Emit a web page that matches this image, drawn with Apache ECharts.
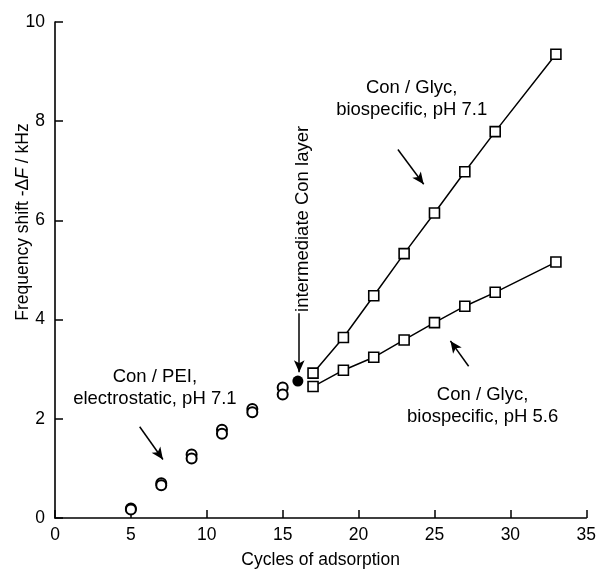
<!DOCTYPE html>
<html>
<head>
<meta charset="utf-8">
<style>
  html, body { margin: 0; padding: 0; background: #fff; }
  #chart { width: 599px; height: 574px; }
</style>
<script src="https://cdn.jsdelivr.net/npm/echarts@6/dist/echarts.min.js"></script>
</head>
<body>
<div id="chart"></div>
<script>
  // Con / PEI, electrostatic, two runs (open circles)
  var peiCycles = [5, 7, 9, 11, 13, 15];
  var peiRunA = [0.19, 0.70, 1.28, 1.78, 2.20, 2.63];
  var peiRunB = [0.17, 0.66, 1.20, 1.70, 2.13, 2.49];
  // intermediate Con layer (filled circle)
  var conCycle = [16];
  var conValue = [2.76];
  // Con / Glyc, biospecific (squares)
  var glycCycles = [17, 19, 21, 23, 25, 27, 29, 33];
  var glycPh71 = [2.92, 3.64, 4.48, 5.33, 6.15, 6.98, 7.79, 9.35];
  var glycPh56 = [2.65, 2.98, 3.24, 3.59, 3.94, 4.27, 4.55, 5.16];

  var font = '"Liberation Sans", Arial, Helvetica, sans-serif';

  function pairs (xs, ys) {
    return xs.map(function (x, i) { return [x, ys[i]]; });
  }

  // annotation arrows in data coords: [from, to]
  var arrows = [
    [[5.58, 1.84], [7.11, 1.18]],
    [[22.59, 7.43], [24.29, 6.73]],
    [[27.25, 3.06], [26.05, 3.57]],
    [[16.09, 4.13], [16.09, 2.94]]
  ];

  var myChart = echarts.init(document.getElementById('chart'));

  var openCircle = { color: '#fff', borderColor: '#000', borderWidth: 2, opacity: 1 };
  var openSquare = { color: '#fff', borderColor: '#000', borderWidth: 1.6, opacity: 1 };

  var opt = {
    animation: false,
    grid: { left: 55, right: 11, top: 22, bottom: 48 },
    xAxis: {
      type: 'value',
      min: 0, max: 35, interval: 5,
      name: 'Cycles of adsorption',
      nameLocation: 'middle',
      nameGap: 33,
      nameTextStyle: { fontFamily: font, fontSize: 17.5, color: '#000' },
      axisLine: { lineStyle: { color: '#000', width: 1.6 } },
      axisTick: { inside: true, length: 8, lineStyle: { color: '#000', width: 1.5 } },
      axisLabel: { fontFamily: font, fontSize: 17.5, color: '#000', margin: 8 },
      splitLine: { show: false }
    },
    yAxis: {
      type: 'value',
      min: 0, max: 10, interval: 2,
      axisLine: { show: true, lineStyle: { color: '#000', width: 1.6 } },
      axisTick: { show: true, inside: true, length: 8, lineStyle: { color: '#000', width: 1.5 } },
      axisLabel: { fontFamily: font, fontSize: 17.5, color: '#000', margin: 10 },
      splitLine: { show: false }
    },
    series: [
      {
        name: 'PEI run A',
        type: 'scatter',
        symbol: 'circle',
        symbolSize: 10,
        itemStyle: openCircle,
        data: pairs(peiCycles, peiRunA)
      },
      {
        name: 'PEI run B',
        type: 'scatter',
        symbol: 'circle',
        symbolSize: 10,
        itemStyle: openCircle,
        data: pairs(peiCycles, peiRunB)
      },
      {
        name: 'intermediate Con',
        type: 'scatter',
        symbol: 'circle',
        symbolSize: 11,
        itemStyle: { color: '#000', opacity: 1 },
        data: pairs(conCycle, conValue),
        markLine: {
          silent: true,
          symbol: ['none', 'arrow'],
          symbolSize: [8, 12],
          label: { show: false },
          lineStyle: { color: '#000', width: 1.5, type: 'solid' },
          data: arrows.map(function (a) {
            return [{ coord: a[0] }, { coord: a[1] }];
          })
        }
      },
      {
        name: 'Glyc pH 7.1',
        type: 'line',
        symbol: 'rect',
        symbolSize: 10,
        showAllSymbol: true,
        lineStyle: { color: '#000', width: 1.5 },
        itemStyle: openSquare,
        data: pairs(glycCycles, glycPh71)
      },
      {
        name: 'Glyc pH 5.6',
        type: 'line',
        symbol: 'rect',
        symbolSize: 10,
        showAllSymbol: true,
        lineStyle: { color: '#000', width: 1.5 },
        itemStyle: openSquare,
        data: pairs(glycCycles, glycPh56)
      }
    ]
  };
  myChart.setOption(opt);

  // text annotations, placed from data coords
  function at (x, y) {
    return myChart.convertToPixel({ gridIndex: 0 }, [x, y]);
  }
  var txt = { fontFamily: font, fontSize: 18.5, fill: '#000', align: 'center', verticalAlign: 'middle', lineHeight: 22 };
  function label (x, y, text, rot) {
    var p = at(x, y);
    return {
      type: 'text', x: p[0], y: p[1], rotation: rot || 0, silent: true,
      style: Object.assign({ text: text }, txt)
    };
  }
  myChart.setOption({
    graphic: [
      label(6.58, 2.62, 'Con / PEI,\nelectrostatic, pH 7.1'),
      label(23.5, 8.44, 'Con / Glyc,\nbiospecific, pH 7.1'),
      label(28.17, 2.27, 'Con / Glyc,\nbiospecific, pH 5.6'),
      label(16.3, 6.03, 'intermediate Con layer', Math.PI / 2),
      {
        type: 'text', x: 23, y: 222, rotation: Math.PI / 2, silent: true,
        style: {
          text: '{a|Frequency shift -Δ}{i|F}{a| / kHz}',
          align: 'center', verticalAlign: 'middle',
          rich: {
            a: { fontFamily: font, fontSize: 17.5, fill: '#000' },
            i: { fontFamily: font, fontSize: 17.5, fontStyle: 'italic', fill: '#000' }
          }
        }
      }
    ]
  });
</script>
</body>
</html>
